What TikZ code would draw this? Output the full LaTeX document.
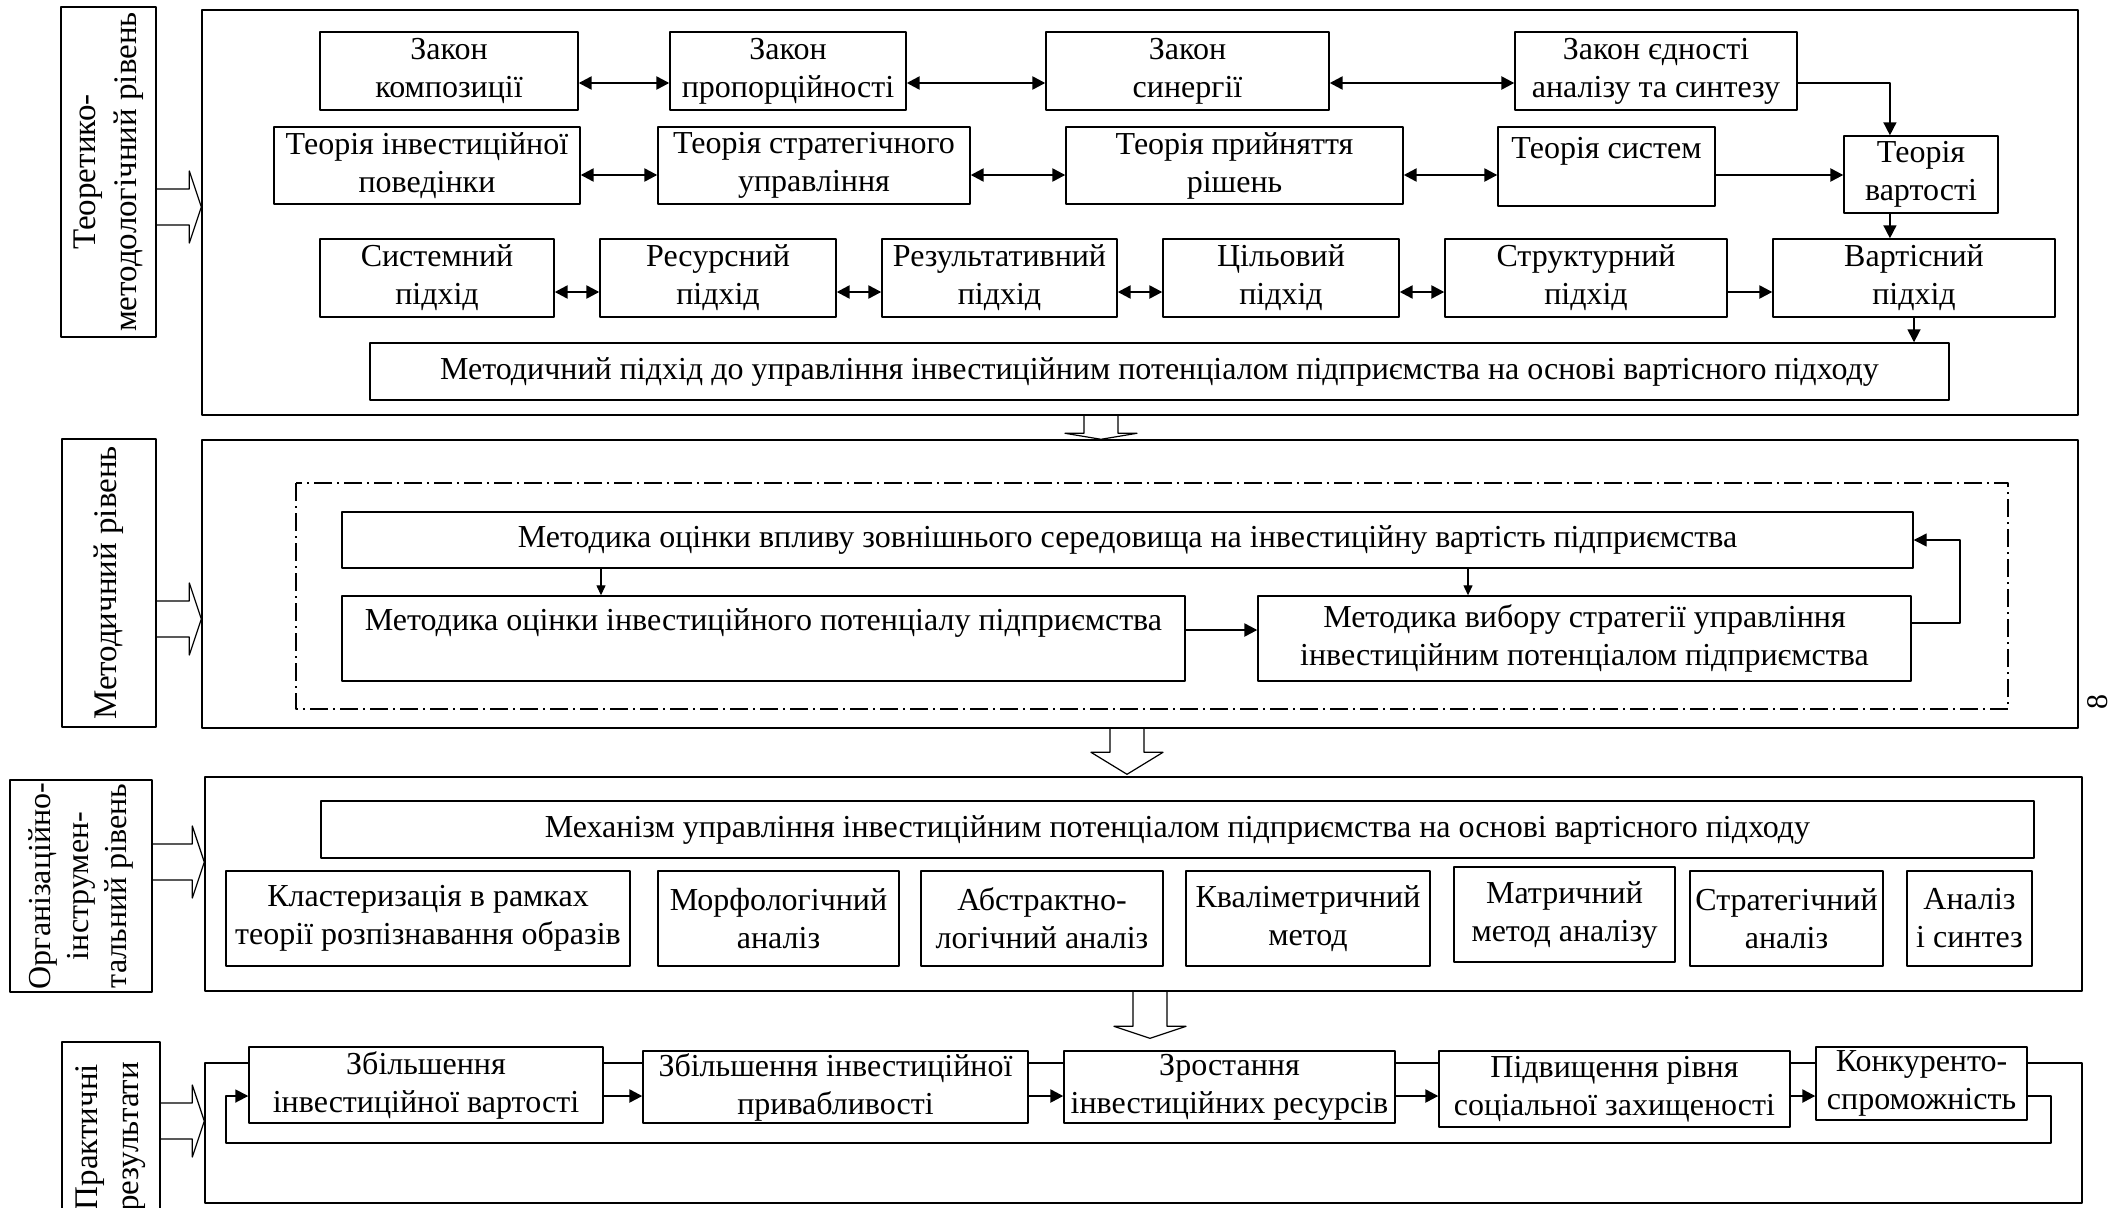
\documentclass[tikz,border=0pt]{standalone}
\usepackage{fontspec}
\setmainfont{Liberation Serif}
\usetikzlibrary{arrows.meta,calc}

% hollow block arrows between a level label and its frame
\newcommand{\blockright}[3]{%
  \coordinate (ax) at (0,#3);
  \path (#1 |- ax) coordinate (bs) (#2 |- ax) coordinate (bt);
  \draw[line width=1.2pt] ($(bs)+(0,-18)$) -| ($(bt)+(-12,-36)$) -- (bt) -- ($(bt)+(-12,36)$) |- ($(bs)+(0,18)$);}
\newcommand{\blockdown}[5]{%
  \coordinate (ax) at (#3,0);
  \path (#1 -| ax) coordinate (bs) ($(#2 -| ax)+(0,-#5)$) coordinate (bt);
  \draw[line width=1.2pt] ($(bs)+(-17,0)$) |- ($(bt)+(-36,-#4)$) -- (bt) -- ($(bt)+(36,-#4)$) -| ($(bs)+(17,0)$);}

\begin{document}
\begin{tikzpicture}[x=1pt,y=-1pt,line join=round,
  >={Triangle[length=13pt,width=13pt]},
  box/.style={draw,fill=white,line width=1.4pt,align=center,inner sep=0pt,font=\fontsize{32}{38}\selectfont},
  frame/.style={draw,line width=1.4pt,inner sep=0pt},
  lab/.style={draw,line width=1.4pt,align=center,inner sep=0pt,rotate=90,font=\fontsize{33}{41}\selectfont},
  link/.style={->,line width=2.4pt},
  dlink/.style={<->,line width=2.4pt},
  slink/.style={-{Triangle[length=10pt,width=9pt]},line width=1.3pt},
  dashdot/.style={line width=1.2pt,dash pattern=on 18pt off 5pt on 2pt off 5pt}]
\useasboundingbox (0,0) rectangle (2127,1207);
\clip (0,0) rectangle (2127,1207);

% frames and level labels
\node[frame,minimum width=1876,minimum height=405] (f1) at (1140,212.5) {};
\node[frame,minimum width=1876,minimum height=288] (f2) at (1140,584) {};
\node[frame,minimum width=1877,minimum height=214] (f3) at (1143.5,884) {};
\node[frame,minimum width=1877,minimum height=140] (f4) at (1143.5,1133) {};
\node[lab,minimum width=330,minimum height=95] (lab1) at (108.5,172) {Теоретико-\\методологічний рівень};
\node[lab,minimum width=288,minimum height=94] (lab2) at (109,583) {Методичний рівень};
\node[lab,minimum width=212,minimum height=142,font=\fontsize{32}{38}\selectfont] (lab3) at (81,886) {Організаційно-\\інструмен-\\тальний рівень};
\node[lab,minimum width=190,minimum height=98] (lab4) at (111,1137) {Практичні\\результати};
\blockright{lab1.south}{f1.west}{207}
\blockright{lab2.south}{f2.west}{619}
\blockright{lab3.south}{f3.west}{862}
\blockright{lab4.south}{f4.west}{1121}
\blockdown{f1.south}{f2.north}{1101}{6}{0}
\blockdown{f2.south}{f3.north}{1127}{22}{2}
\blockdown{f3.south}{f4.north}{1150}{12}{24}
\node[rotate=90,font=\fontsize{30}{36}\selectfont] (pgnum) at (2098,702) {8};

% theoretical level
\coordinate (row1) at (0,83);
\coordinate (row2) at (0,175);
\coordinate (row3) at (0,292);
\node[box,minimum width=258,minimum height=78] (zk) at (449,71) {Закон\\композиції};
\node[box,minimum width=236,minimum height=78] (zp) at (788,71) {Закон\\пропорційності};
\node[box,minimum width=283,minimum height=78] (zs) at (1187.5,71) {Закон\\синергії};
\node[box,minimum width=282,minimum height=78] (ze) at (1656,71) {Закон єдності\\аналізу та синтезу};
\node[box,minimum width=306,minimum height=77] (ti) at (427,165.5) {Теорія інвестиційної\\поведінки};
\node[box,minimum width=312,minimum height=77] (tsu) at (814,165.5) {Теорія стратегічного\\управління};
\node[box,minimum width=337,minimum height=77] (tpr) at (1234.5,165.5) {Теорія прийняття\\рішень};
\node[box,minimum width=217,minimum height=79] (tsy) at (1606.5,166.5) {Теорія систем\\\mbox{}};
\node[box,minimum width=154,minimum height=77] (tv) at (1921,174.5) {Теорія\\вартості};
\node[box,minimum width=234,minimum height=78] (ps) at (437,278) {Системний\\підхід};
\node[box,minimum width=236,minimum height=78] (pr) at (718,278) {Ресурсний\\підхід};
\node[box,minimum width=235,minimum height=78] (prz) at (999.5,278) {Результативний\\підхід};
\node[box,minimum width=236,minimum height=78] (pc) at (1281,278) {Цільовий\\підхід};
\node[box,minimum width=282,minimum height=78] (pst) at (1586,278) {Структурний\\підхід};
\node[box,minimum width=282,minimum height=78] (pv) at (1914,278) {Вартісний\\підхід};
\node[box,minimum width=1579,minimum height=57] (mp) at (1159.5,371.5) {Методичний підхід до управління інвестиційним потенціалом підприємства на основі вартісного підходу};
\draw[dlink] (zk.east |- row1) -- (zp.west |- row1);
\draw[dlink] (zp.east |- row1) -- (zs.west |- row1);
\draw[dlink] (zs.east |- row1) -- (ze.west |- row1);
\coordinate (tvin) at ($(tv.north west)!0.3!(tv.north east)$);
\coordinate (tvout) at ($(tv.south west)!0.3!(tv.south east)$);
\draw[->,line width=1.6pt] (ze.east |- row1) -| (tvin);
\draw[dlink] (ti.east |- row2) -- (tsu.west |- row2);
\draw[dlink] (tsu.east |- row2) -- (tpr.west |- row2);
\draw[dlink] (tpr.east |- row2) -- (tsy.west |- row2);
\draw[link] (tsy.east |- row2) -- (tv.west |- row2);
\draw[->,line width=1.6pt] (tvout) -- (tvout |- pv.north);
\draw[dlink] (ps.east |- row3) -- (pr.west |- row3);
\draw[dlink] (pr.east |- row3) -- (prz.west |- row3);
\draw[dlink] (prz.east |- row3) -- (pc.west |- row3);
\draw[dlink] (pc.east |- row3) -- (pst.west |- row3);
\draw[link] (pst.east |- row3) -- (pv.west |- row3);
\draw[->,line width=1.6pt] (pv.south) -- (pv.south |- mp.north);

% methodical level
\draw[dashdot] (296,483) rectangle (2008,709);
\node[box,minimum width=1571,minimum height=56] (mv) at (1127.5,540) {Методика оцінки впливу зовнішнього середовища на інвестиційну вартість підприємства};
\node[box,minimum width=843,minimum height=85] (mpot) at (763.5,638.5) {Методика оцінки інвестиційного потенціалу підприємства\\\mbox{}};
\node[box,minimum width=653,minimum height=85] (mvyb) at (1584.5,638.5) {Методика вибору стратегії управління\\інвестиційним потенціалом підприємства};
\coordinate (m1x) at (601,0);
\coordinate (m2x) at (1468,0);
\coordinate (row5) at (0,630);
\coordinate (lp) at (1960,623);
\draw[slink] (mv.south -| m1x) -- (mpot.north -| m1x);
\draw[slink] (mv.south -| m2x) -- (mvyb.north -| m2x);
\draw[link] (mpot.east |- row5) -- (mvyb.west |- row5);
\draw[->,line width=1.4pt] (mvyb.east |- lp) -- (lp) |- (mv.east);

% organisational level
\node[box,minimum width=1713,minimum height=57] (mech) at (1177.5,829.5) {Механізм управління інвестиційним потенціалом підприємства на основі вартісного підходу};
\node[box,minimum width=404,minimum height=95] (k1) at (428,918.5) {Кластеризація в рамках\\теорії розпізнавання образів};
\node[box,minimum width=241,minimum height=95] (k2) at (778.5,918.5) {Морфологічний\\аналіз};
\node[box,minimum width=242,minimum height=95] (k3) at (1042,918.5) {Абстрактно-\\логічний аналіз};
\node[box,minimum width=244,minimum height=95] (k4) at (1308,918.5) {Кваліметричний\\метод};
\node[box,minimum width=221,minimum height=95] (k5) at (1564.5,914.5) {Матричний\\метод аналізу};
\node[box,minimum width=193,minimum height=95] (k6) at (1786.5,918.5) {Стратегічний\\аналіз};
\node[box,minimum width=125,minimum height=95] (k7) at (1969.5,918.5) {Аналіз\\і синтез};

% practical results
\coordinate (row4) at (0,1096);
\node[box,minimum width=354,minimum height=76] (r1) at (426,1085) {Збільшення\\інвестиційної вартості};
\node[box,minimum width=385,minimum height=72] (r2) at (835.5,1087) {Збільшення інвестиційної\\привабливості};
\node[box,minimum width=331,minimum height=72] (r3) at (1229.5,1087) {Зростання\\інвестиційних ресурсів};
\node[box,minimum width=351,minimum height=76] (r4) at (1614.5,1089) {Підвищення рівня\\соціальної захищеності};
\node[box,minimum width=211,minimum height=73] (r5) at (1921.5,1083.5) {Конкуренто-\\спроможність};
\draw[link] (r1.east |- row4) -- (r2.west |- row4);
\draw[link] (r2.east |- row4) -- (r3.west |- row4);
\draw[link] (r3.east |- row4) -- (r4.west |- row4);
\draw[link] (r4.east |- row4) -- (r5.west |- row4);
\coordinate (lpr) at (2051,1143);
\coordinate (lpl) at (226,1143);
\draw[->,line width=1.8pt] (r5.east |- row4) -| (lpr) -- (lpl) |- (r1.west |- row4);
\end{tikzpicture}
\end{document}
